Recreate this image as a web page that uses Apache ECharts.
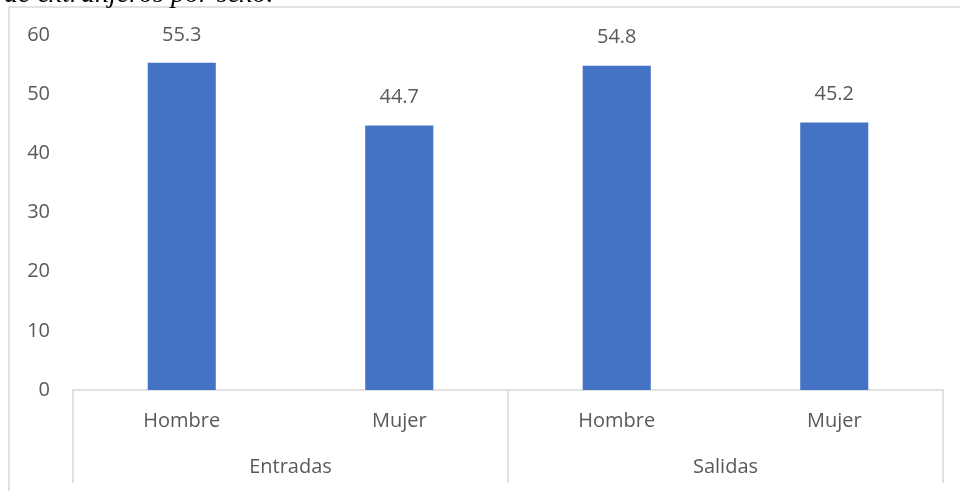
<!DOCTYPE html>
<html>
<head>
<meta charset="utf-8">
<script src="https://cdn.jsdelivr.net/npm/echarts@6/dist/echarts.min.js"></script>
<style>
html,body{margin:0;padding:0;background:#fff;}
#chart{width:960px;height:491px;}
</style>
</head>
<body>
<div id="chart"></div>
<script>
const captionText = 'de extranjeros por sexo.';
const sexCategories = ['Hombre', 'Mujer', 'Hombre', 'Mujer'];
const groupCategories = ['Entradas', 'Salidas'];
const percentValues = [55.3, 44.7, 54.8, 45.2];
const yTicks = { min: 0, max: 60, interval: 10 };

const chart = echarts.init(document.getElementById('chart'));
const txt = '#595959';
const lineCol = '#d9d9d9';
chart.setOption({
  animation: false,
  backgroundColor: '#fff',
  title: {
    text: captionText,
    left: -1,
    top: -24.5,
    textStyle: { fontFamily: 'Liberation Serif', fontStyle: 'italic', fontWeight: 'normal', fontSize: 28, color: '#000' }
  },
  graphic: [{
    type: 'rect',
    shape: { x: 9, y: 7, width: 1000, height: 600 },
    style: { fill: '#fff', stroke: lineCol, lineWidth: 1.5 },
    silent: true, z: -1
  }],
  grid: { left: 73, right: 17, top: 35, bottom: 101, containLabel: false },
  xAxis: [{
    type: 'category',
    data: sexCategories,
    position: 'bottom',
    axisLine: { show: true, lineStyle: { color: lineCol, width: 1.5 } },
    axisTick: { show: false },
    axisLabel: { color: txt, fontFamily: 'Open Sans', fontSize: 20, margin: 21, interval: 0 }
  }, {
    type: 'category',
    data: groupCategories,
    position: 'bottom',
    axisLine: { show: false },
    axisTick: { show: true, length: 93, interval: 0, lineStyle: { color: lineCol, width: 1.5 } },
    axisLabel: { color: txt, fontFamily: 'Open Sans', fontSize: 20, margin: 67, interval: 0 }
  }],
  yAxis: {
    type: 'value',
    min: yTicks.min, max: yTicks.max, interval: yTicks.interval,
    axisLine: { show: false },
    axisTick: { show: false },
    splitLine: { show: false },
    axisLabel: { color: txt, fontFamily: 'Open Sans', fontSize: 20, margin: 23 }
  },
  series: [{
    type: 'bar',
    xAxisIndex: 0,
    data: percentValues,
    barWidth: '31.3%',
    itemStyle: { color: '#4472c4' },
    label: {
      show: true, position: 'top', distance: 18,
      color: txt, fontFamily: 'Open Sans', fontSize: 20,
      formatter: p => p.value.toFixed(1)
    }
  }]
});
</script>
</body>
</html>
